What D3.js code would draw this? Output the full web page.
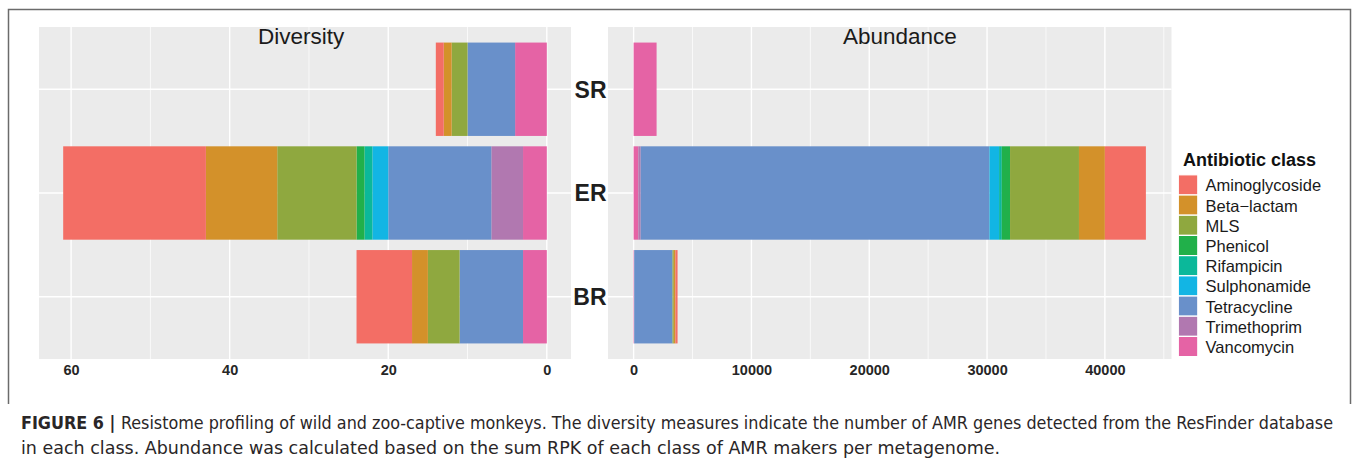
<!DOCTYPE html>
<html>
<head>
<meta charset="utf-8">
<script src="https://cdn.jsdelivr.net/npm/d3@7"></script>
<style>
  html, body { margin: 0; padding: 0; background: #fff; }
  svg { display: block; }
</style>
</head>
<body>
<svg id="chart" width="1358" height="465"></svg>
<script>
// Sites (rows, top to bottom)
const sites = ["SR", "ER", "BR"];

// Antibiotic classes in legend order
const classes = ["Aminoglycoside", "Beta\u2212lactam", "MLS", "Phenicol", "Rifampicin",
                 "Sulphonamide", "Tetracycline", "Trimethoprim", "Vancomycin"];
const classColors = ["#F36E65", "#D3912A", "#8FA83F", "#21B04A", "#0BB89A",
                     "#12B5E4", "#6990CA", "#B178B0", "#E563A5"];

// Diversity: number of AMR genes per class, one array per site (legend order)
const diversitySR = [1, 1, 2, 0, 0, 0, 6, 0, 4];
const diversityER = [18, 9, 10, 1, 1, 2, 13, 4, 3];
const diversityBR = [7, 2, 4, 0, 0, 0, 8, 0, 3];

// Abundance: summed RPK per class, one array per site (legend order)
const abundanceSR = [0, 0, 0, 0, 0, 0, 0, 0, 1950];
const abundanceER = [3480, 2200, 5850, 700, 230, 820, 29600, 200, 400];
const abundanceBR = [180, 140, 110, 0, 0, 0, 3250, 0, 50];

// Axis ticks
const diversityTicks = [60, 40, 20, 0];
const diversityMinor = [50, 30, 10];
const abundanceTicks = [0, 10000, 20000, 30000, 40000];
const abundanceMinor = [5000, 15000, 25000, 35000, 45000];

const svg = d3.select("#chart");
const FONT = "'Liberation Sans', Arial, Helvetica, sans-serif";

// Outer figure frame
svg.append("path")
  .attr("d", "M8.5,404 L8.5,9.5 L1350.5,9.5 L1350.5,404")
  .attr("fill", "none").attr("stroke", "#6b6b6b").attr("stroke-width", 1.5);

const panelTop = 27, panelBottom = 359;
const y = d3.scaleBand().domain(sites).range([panelTop, panelBottom])
  .paddingInner(0.1).paddingOuter(0.15);

const divData = { SR: diversitySR, ER: diversityER, BR: diversityBR };
const abuData = { SR: abundanceSR, ER: abundanceER, BR: abundanceBR };

// Stack segments: Vancomycin sits at zero, Aminoglycoside at the far end
function stackRows(data) {
  const rows = [];
  sites.forEach(site => {
    let acc = 0;
    for (let i = classes.length - 1; i >= 0; i--) {
      const v = data[site][i];
      if (v > 0) rows.push({ site, cls: i, x0: acc, x1: acc + v });
      acc += v;
    }
  });
  return rows;
}

function drawPanel(opt) {
  const g = svg.append("g");
  const x = opt.x;
  const [left, right] = [opt.left, opt.right];
  g.append("rect").attr("x", left).attr("y", panelTop)
    .attr("width", right - left).attr("height", panelBottom - panelTop)
    .attr("fill", "#EBEBEB");
  // minor vertical grid
  g.selectAll(".vmin").data(opt.minor).join("line")
    .attr("x1", d => x(d)).attr("x2", d => x(d))
    .attr("y1", panelTop).attr("y2", panelBottom)
    .attr("stroke", "#fff").attr("stroke-width", 0.7);
  // major vertical grid
  g.selectAll(".vmaj").data(opt.ticks).join("line")
    .attr("x1", d => x(d)).attr("x2", d => x(d))
    .attr("y1", panelTop).attr("y2", panelBottom)
    .attr("stroke", "#fff").attr("stroke-width", 1.4);
  // horizontal grid at site centres
  g.selectAll(".hmaj").data(sites).join("line")
    .attr("x1", left).attr("x2", right)
    .attr("y1", d => y(d) + y.bandwidth() / 2).attr("y2", d => y(d) + y.bandwidth() / 2)
    .attr("stroke", "#fff").attr("stroke-width", 1.4);
  // stacked bars
  g.selectAll(".seg").data(stackRows(opt.data)).join("rect")
    .attr("x", d => Math.min(x(d.x0), x(d.x1)))
    .attr("width", d => Math.abs(x(d.x1) - x(d.x0)))
    .attr("y", d => y(d.site)).attr("height", y.bandwidth())
    .attr("fill", d => classColors[d.cls]);
  // tick labels
  const axis = d3.axisBottom(x).tickValues(opt.ticks).tickSize(0).tickPadding(0)
    .tickFormat(d3.format("d"));
  const ax = g.append("g").attr("transform", `translate(0,${panelBottom})`).call(axis);
  ax.select(".domain").remove();
  ax.selectAll("text")
    .attr("y", 16).attr("dy", 0)
    .attr("font-family", FONT).attr("font-size", 14.5).attr("font-weight", "bold")
    .attr("fill", "#262626");
  // panel title
  g.append("text").attr("x", x(opt.titleAt)).attr("y", 44)
    .attr("text-anchor", "middle").attr("font-family", FONT)
    .attr("font-size", 22.5).attr("fill", "#1a1a1a").text(opt.title);
}

const xDiv = d3.scaleLinear().domain([64.05, -3.05]).range([39, 571]);
const xAbu = d3.scaleLinear().domain([-2174, 45654]).range([608, 1171.5]);

drawPanel({ x: xDiv, left: 39, right: 571, data: divData,
  ticks: diversityTicks, minor: diversityMinor, title: "Diversity", titleAt: 31 });
drawPanel({ x: xAbu, left: 608, right: 1171.5, data: abuData,
  ticks: abundanceTicks, minor: abundanceMinor, title: "Abundance", titleAt: 22600 });

// Site labels between the panels
svg.selectAll(".site").data(sites).join("text")
  .attr("x", 606.5).attr("y", d => y(d) + y.bandwidth() / 2 + 8.3)
  .attr("text-anchor", "end").attr("font-family", FONT)
  .attr("font-size", 23).attr("font-weight", "bold").attr("fill", "#1f1f1f")
  .text(d => d);

// Legend
const lg = svg.append("g");
lg.append("text").attr("x", 1183).attr("y", 166)
  .attr("font-family", FONT).attr("font-size", 18).attr("font-weight", "bold")
  .attr("fill", "#111").text("Antibiotic class");
const rowH = 20.2;
lg.selectAll(".key").data(classes).join("rect")
  .attr("x", 1178.3).attr("y", (d, i) => 174.8 + i * rowH)
  .attr("width", 19.5).attr("height", rowH)
  .attr("fill", (d, i) => classColors[i]).attr("stroke", "#fff").attr("stroke-width", 1.2);
lg.selectAll(".lab").data(classes).join("text")
  .attr("x", 1205.5).attr("y", (d, i) => 174.8 + i * rowH + rowH / 2 + 6.5)
  .attr("font-family", FONT).attr("font-size", 16.5).attr("fill", "#1a1a1a")
  .text(d => d);

// Caption
const CAP = "'DejaVu Sans Condensed', 'Liberation Sans Narrow', 'DejaVu Sans', sans-serif";
const c1 = svg.append("text").attr("x", 21).attr("y", 429)
  .attr("font-family", CAP).attr("font-stretch", "condensed")
  .attr("font-size", 17).attr("fill", "#2a2627")
  .attr("textLength", 1312).attr("lengthAdjust", "spacingAndGlyphs");
c1.append("tspan").attr("font-weight", "bold").text("FIGURE 6 | ");
c1.append("tspan").text("Resistome profiling of wild and zoo-captive monkeys. The diversity measures indicate the number of AMR genes detected from the ResFinder database");
svg.append("text").attr("x", 21).attr("y", 454)
  .attr("font-family", CAP).attr("font-stretch", "condensed")
  .attr("font-size", 17).attr("fill", "#2a2627")
  .attr("textLength", 979).attr("lengthAdjust", "spacingAndGlyphs")
  .text("in each class. Abundance was calculated based on the sum RPK of each class of AMR makers per metagenome.");
</script>
</body>
</html>
